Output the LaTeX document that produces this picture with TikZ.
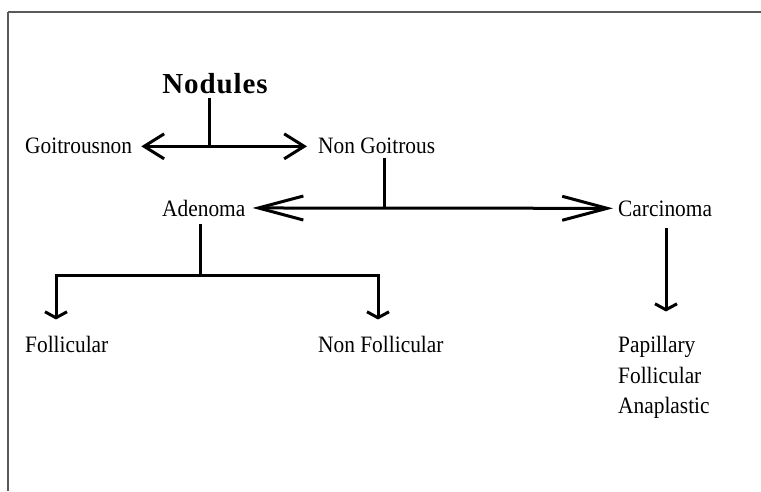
\documentclass[tikz,border=0pt]{standalone}
\usepackage{fontspec}
\setmainfont{Liberation Serif}[FakeStretch=0.91]
\newfontfamily\titlefont{Liberation Serif}[LetterSpace=3.0]
\usetikzlibrary{arrows.meta,calc}

\tikzset{
  frame/.style={draw=black!65, line width=2pt},
  ln/.style={line width=3pt, line cap=butt, line join=miter},
  lbl/.style={inner sep=0pt, anchor=base west, font=\fontsize{23.5}{30}\selectfont},
  title/.style={inner sep=0pt, anchor=base, font=\titlefont\bfseries\fontsize{29}{34}\selectfont},
  wideTip/.tip={Straight Barb[length=20pt, width=25pt]},
  longTip/.tip={Straight Barb[length=45pt, width=24pt]},
  flatTip/.tip={Straight Barb[length=6pt, width=22pt]},
}

\begin{document}
\begin{tikzpicture}[x=1pt, y=1pt]
  \useasboundingbox (0,0) rectangle (761,491);

  % open frame: top and left edges only
  \draw[frame] (8,479) -- (761,479);
  \draw[frame] (8,479) -- (8,0);

  % labels
  \node[title] (nod) at (215,397) {Nodules};
  \node[lbl] (goit)    at (25,337)  {Goitrousnon};
  \node[lbl] (nongoit) at (318,337) {Non Goitrous};
  \node[lbl] (aden)    at (162,275) {Adenoma};
  \node[lbl] (carc)    at (618,275) {Carcinoma};
  \node[lbl] (foll)    at (25,139)  {Follicular};
  \node[lbl] (nonfoll) at (318,139) {Non Follicular};
  \node[lbl] (pap)     at (618,139) {Papillary};
  \node[lbl] (cfoll)   at (618,108) {Follicular};
  \node[lbl] (anap)    at (618,78)  {Anaplastic};

  % junction columns
  \coordinate (jA) at (209,0);
  \coordinate (jB) at (384,0);
  \coordinate (jC) at (200,0);
  \coordinate (jD) at (666,0);
  \coordinate (barL) at (56,216);
  \coordinate (barR) at (378,216);

  % Nodules -> Goitrousnon / Non Goitrous
  \draw[ln, shorten <=3pt] (jA |- nod.south) -- (jA |- goit.east);
  \draw[ln, wideTip-wideTip, shorten <=9pt, shorten >=11pt] (goit.east) -- (nongoit.west);

  % Non Goitrous -> Adenoma / Carcinoma
  \draw[ln, shorten <=4pt] (jB |- nongoit.south) -- (jB |- aden.east);
  \draw[ln, longTip-longTip, shorten <=7pt, shorten >=5pt] (aden.east) -- (carc.west);

  % Adenoma -> Follicular / Non Follicular
  \draw[ln, shorten <=8pt] (jC |- aden.south) -- (jC |- barL);
  \draw[ln, flatTip-flatTip, shorten <=16pt, shorten >=16pt]
    (barL |- foll.north) -- (barL) -- (barR) -- (barR |- nonfoll.north);

  % Carcinoma -> subtypes
  \draw[ln, -flatTip, shorten <=12pt, shorten >=24pt] (jD |- carc.south) -- (jD |- pap.north);
\end{tikzpicture}
\end{document}
